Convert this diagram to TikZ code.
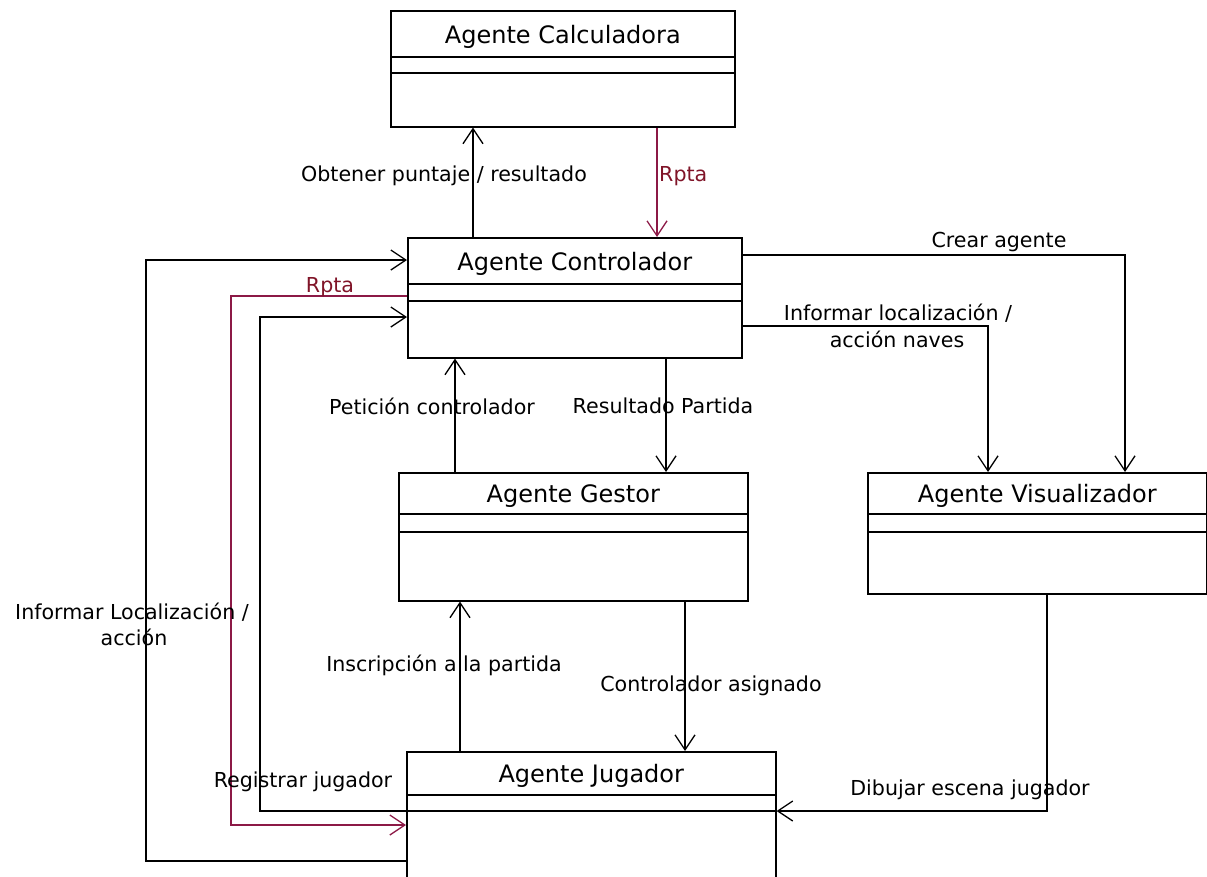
\documentclass[tikz,border=0pt]{standalone}
\usepackage{fontspec}
\setmainfont{DejaVu Sans}
\usetikzlibrary{arrows.meta}
\definecolor{rptared}{RGB}{140,25,70}
\definecolor{rptatext}{RGB}{128,20,40}
\begin{document}
\begin{tikzpicture}[x=1pt,y=-1pt,
  agent/.style={draw, line width=1.6pt, inner sep=0pt, anchor=north west},
  divider/.style={line width=1.6pt},
  title/.style={font=\fontsize{24}{28}\selectfont, inner sep=0pt},
  msg/.style={font=\fontsize{20.6}{24}\selectfont, inner sep=0pt},
  conn/.style={line width=1.3pt, -{Straight Barb[length=15pt,width=20pt,line width=1.3pt]}},
  rconn/.style={conn, draw=rptared},
]
\useasboundingbox (0,0) rectangle (1207,876);
\clip (0,0) rectangle (1207,876);

% ---- agent boxes: title compartment, empty attribute and operation compartments
\node[agent, minimum width=344pt, minimum height=116pt] (calc) at (390,10) {};
\draw[divider] ([yshift=-47pt]calc.north west) -- ([yshift=-47pt]calc.north east);
\draw[divider] ([yshift=-63pt]calc.north west) -- ([yshift=-63pt]calc.north east);
\node[title] (calcT) at ([yshift=-27pt]calc.north) {Agente Calculadora};

\node[agent, minimum width=334pt, minimum height=120pt] (ctrl) at (407,237) {};
\draw[divider] ([yshift=-47pt]ctrl.north west) -- ([yshift=-47pt]ctrl.north east);
\draw[divider] ([yshift=-64pt]ctrl.north west) -- ([yshift=-64pt]ctrl.north east);
\node[title] (ctrlT) at ([yshift=-27pt]ctrl.north) {Agente Controlador};

\node[agent, minimum width=349pt, minimum height=128pt] (gest) at (398,472) {};
\draw[divider] ([yshift=-42pt]gest.north west) -- ([yshift=-42pt]gest.north east);
\draw[divider] ([yshift=-60pt]gest.north west) -- ([yshift=-60pt]gest.north east);
\node[title] (gestT) at ([yshift=-24pt]gest.north) {Agente Gestor};

\node[agent, minimum width=339pt, minimum height=121pt] (vis) at (867,472) {};
\draw[divider] ([yshift=-42pt]vis.north west) -- ([yshift=-42pt]vis.north east);
\draw[divider] ([yshift=-60pt]vis.north west) -- ([yshift=-60pt]vis.north east);
\node[title] (visT) at ([yshift=-24pt]vis.north) {Agente Visualizador};

\node[agent, minimum width=369pt, minimum height=150pt] (jug) at (406,751) {};
\draw[divider] ([yshift=-44pt]jug.north west) -- ([yshift=-44pt]jug.north east);
\draw[divider] ([yshift=-60pt]jug.north west) -- ([yshift=-60pt]jug.north east);
\node[title] (jugT) at ([yshift=-25pt]jug.north) {Agente Jugador};

% ---- guide coordinates for connector routes
\coordinate (xObt) at (473,0);
\coordinate (xRc) at (657,0);
\coordinate (xPet) at (455,0);
\coordinate (xRes) at (666,0);
\coordinate (xIns) at (460,0);
\coordinate (xAsg) at (685,0);
\coordinate (yCrear) at (0,255);
\coordinate (kCrear) at (1125,255);
\coordinate (yInf) at (0,326);
\coordinate (kInf) at (988,326);
\coordinate (kDib1) at (1047,593);
\coordinate (kDib2) at (1047,811);
\coordinate (kOut1) at (146,861);
\coordinate (kOut2) at (146,260);
\coordinate (kRp1) at (231,296);
\coordinate (kRp2) at (231,825);
\coordinate (kReg1) at (260,811);
\coordinate (kReg2) at (260,317);

% ---- messages between agents
\draw[conn] (ctrl.north -| xObt) -- (calc.south -| xObt);
\draw[rconn] (calc.south -| xRc) -- (ctrl.north -| xRc);
\draw[conn] (gest.north -| xPet) -- (ctrl.south -| xPet);
\draw[conn] (ctrl.south -| xRes) -- (gest.north -| xRes);
\draw[conn] (jug.north -| xIns) -- (gest.south -| xIns);
\draw[conn] (gest.south -| xAsg) -- (jug.north -| xAsg);
\draw[conn] (ctrl.east |- yCrear) -- (kCrear) -- (vis.north -| kCrear);
\draw[conn] (ctrl.east |- yInf) -- (kInf) -- (vis.north -| kInf);
\draw[conn] (kDib1) -- (kDib2) -- (jug.east |- kDib2);
\draw[conn] (jug.west |- kOut1) -- (kOut1) -- (kOut2) -- (ctrl.west |- kOut2);
\draw[rconn] (ctrl.west |- kRp1) -- (kRp1) -- (kRp2) -- (jug.west |- kRp2);
\draw[conn] (jug.west |- kReg1) -- (kReg1) -- (kReg2) -- (ctrl.west |- kReg2);

% ---- message labels
\node[msg] (lObt) at (444,176) {Obtener puntaje / resultado};
\node[msg, text=rptatext, anchor=west] (lRc) at (659,176) {Rpta};
\node[msg] (lPet) at (432,406) {Petición controlador};
\node[msg] (lRes) at (663,406) {Resultado Partida};
\node[msg] (lIns) at (444,665) {Inscripción a la partida};
\node[msg] (lAsg) at (711,686) {Controlador asignado};
\node[msg] (lCrear) at (999,242) {Crear agente};
\node[msg] (lInf1) at (898,313) {Informar localización /};
\node[msg] (lInf2) at (897,339) {acción naves};
\node[msg] (lDib) at (970,790) {Dibujar escena jugador};
\node[msg] (lOut1) at (132,612) {Informar Localización /};
\node[msg] (lOut2) at (134,637) {acción};
\node[msg, text=rptatext] (lRp) at (330,287) {Rpta};
\node[msg] (lReg) at (303,782) {Registrar jugador};
\end{tikzpicture}
\end{document}
